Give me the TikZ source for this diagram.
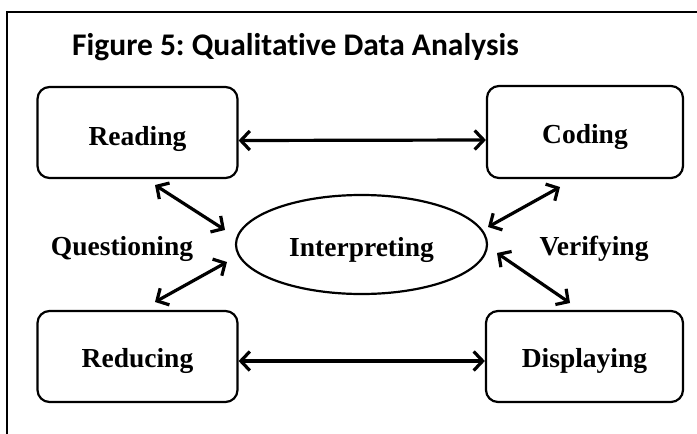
\documentclass[tikz,border=0pt]{standalone}
\usepackage{fontspec}
\setmainfont{Liberation Serif}
\newfontfamily\titlefont[Ligatures=NoCommon]{Carlito}
\usetikzlibrary{arrows.meta,shapes.geometric}
\frenchspacing
\tikzset{
  boxnode/.style={draw, line width=2.2pt, rounded corners=12pt, inner sep=0pt,
    text height=22pt, text depth=0pt,
    font=\fontsize{27.5}{33}\selectfont\bfseries},
  ellnode/.style={draw, ellipse, line width=2.2pt, inner sep=0pt,
    text height=23pt, text depth=0pt,
    font=\fontsize{27.5}{33}\selectfont\bfseries},
  lbl/.style={anchor=base, inner sep=0pt, font=\fontsize{27.5}{33}\selectfont\bfseries},
  dbl/.style={line width=3.2pt, {Straight Barb[length=9pt,width=19pt]}-{Straight Barb[length=9pt,width=19pt]}},
}
\begin{document}
\begin{tikzpicture}[x=1pt,y=-1pt]
\useasboundingbox (0,0) rectangle (697,434);
\fill[white] (0,0) rectangle (697,434);
% frame
\draw[line width=2pt] (7,434) -- (7,12) -- (697,12);
% title
\node[anchor=base west, inner sep=0pt, font=\titlefont\fontsize{31.5}{36}\selectfont\bfseries] (title) at (72,55) {Figure 5: Qualitative Data Analysis};
% boxes
\node[boxnode, minimum width=200pt, minimum height=91pt, text height=25pt] (read) at (137.5,132.5) {Reading};
\node[boxnode, minimum width=196pt, minimum height=92pt] (cod) at (585,132) {Coding};
\node[boxnode, minimum width=200pt, minimum height=91pt] (red) at (137.5,356.5) {Reducing};
\node[boxnode, minimum width=197pt, minimum height=91pt] (disp) at (584.5,356.5) {Displaying};
\node[ellnode, minimum width=251pt, minimum height=99pt] (int) at (361.5,244.5) {Interpreting};
% labels
\node[lbl] (q) at (122,255) {Questioning};
\node[lbl] (v) at (594,255) {Verifying};
% connector end points
\coordinate (r1) at (155,185);
\coordinate (i1) at (225,230);
\coordinate (i2) at (227,262);
\coordinate (d1) at (155,302);
\coordinate (c1) at (560,187);
\coordinate (i3) at (488,227);
\coordinate (i4) at (497,253);
\coordinate (s1) at (570,303);
% connectors
\draw[dbl] ([yshift=-8pt]read.east) -- ([yshift=-8pt]cod.west);
\draw[dbl] ([yshift=-4.5pt]red.east) -- ([yshift=-4.5pt]disp.west);
\draw[dbl] (r1) -- (i1);
\draw[dbl] (i2) -- (d1);
\draw[dbl] (c1) -- (i3);
\draw[dbl] (i4) -- (s1);
\end{tikzpicture}
\end{document}
